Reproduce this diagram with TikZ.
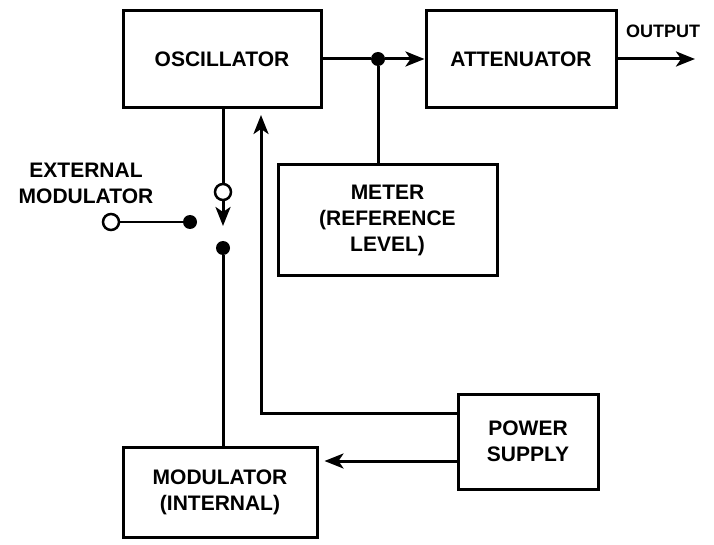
\documentclass[tikz,border=0pt]{standalone}
\usepackage{fontspec}
\setmainfont{Liberation Sans}
\usetikzlibrary{arrows.meta, positioning}

\begin{document}
\begin{tikzpicture}[
    x=1pt, y=-1pt,
    font=\bfseries\fontsize{21}{26}\selectfont,
    >={Stealth[length=19pt, width=15pt, inset=5pt]},
    block/.style={draw, line width=3pt, align=center, inner sep=0pt},
    wire/.style={line width=3pt},
    arrow/.style={wire, ->},
    jdot/.style={circle, fill, inner sep=0pt, minimum size=14pt},
    odot/.style={circle, draw, line width=2.5pt, fill=white, inner sep=0pt, minimum size=16pt},
]
\useasboundingbox (0,0) rectangle (714,545);

% blocks
\node[block, minimum width=198pt, minimum height=97pt] (osc) at (222,59) {OSCILLATOR};
\node[block, minimum width=190pt, minimum height=97pt] (att) at (521,59) {ATTENUATOR};
\node[block, minimum width=219pt, minimum height=110pt] (meter) at (387.5,220) {METER\\(REFERENCE\\LEVEL)};
\node[block, minimum width=140pt, minimum height=95pt] (psu) at (528,441.5) {POWER\\SUPPLY};
\node[block, minimum width=194pt, minimum height=90pt] (modint) at (220,492) {MODULATOR\\(INTERNAL)};

% signal path
\node[jdot] (tap) at (378,59) {};
\draw[wire] (osc.east) -- (tap);
\draw[arrow] (tap) -- (att.west);
\draw[wire] (tap) -- (tap |- meter.north);

\coordinate (out) at (695,59);
\draw[arrow] (att.east) -- (out);
\node[font=\bfseries\fontsize{18}{20}\selectfont] (outlbl) at (663,31) {OUTPUT};

% modulation switch
\node[odot] (swc) at (223,192) {};
\draw[wire] (osc.south -| swc) -- (swc);
\coordinate (swtip) at (223,226);
\draw[arrow] (swc) -- (swtip);
\node[jdot] (swin) at (223,248) {};
\draw[wire] (swin) -- (swin |- modint.north);

\node[odot] (extin) at (111,222) {};
\node[jdot] (extdot) at (190,222) {};
\draw[wire, line width=2.5pt] (extin) -- (extdot);
\node[align=center] (extlbl) at (86,183) {EXTERNAL\\MODULATOR};

% power feeds
\coordinate (feed) at (261,115);
\draw[arrow] ([yshift=28.5pt]psu.west) -| (feed);
\draw[arrow, shorten >=6pt] ([yshift=-19.5pt]psu.west) -- ([yshift=-19.5pt]psu.west -| modint.east);

\end{tikzpicture}
\end{document}
